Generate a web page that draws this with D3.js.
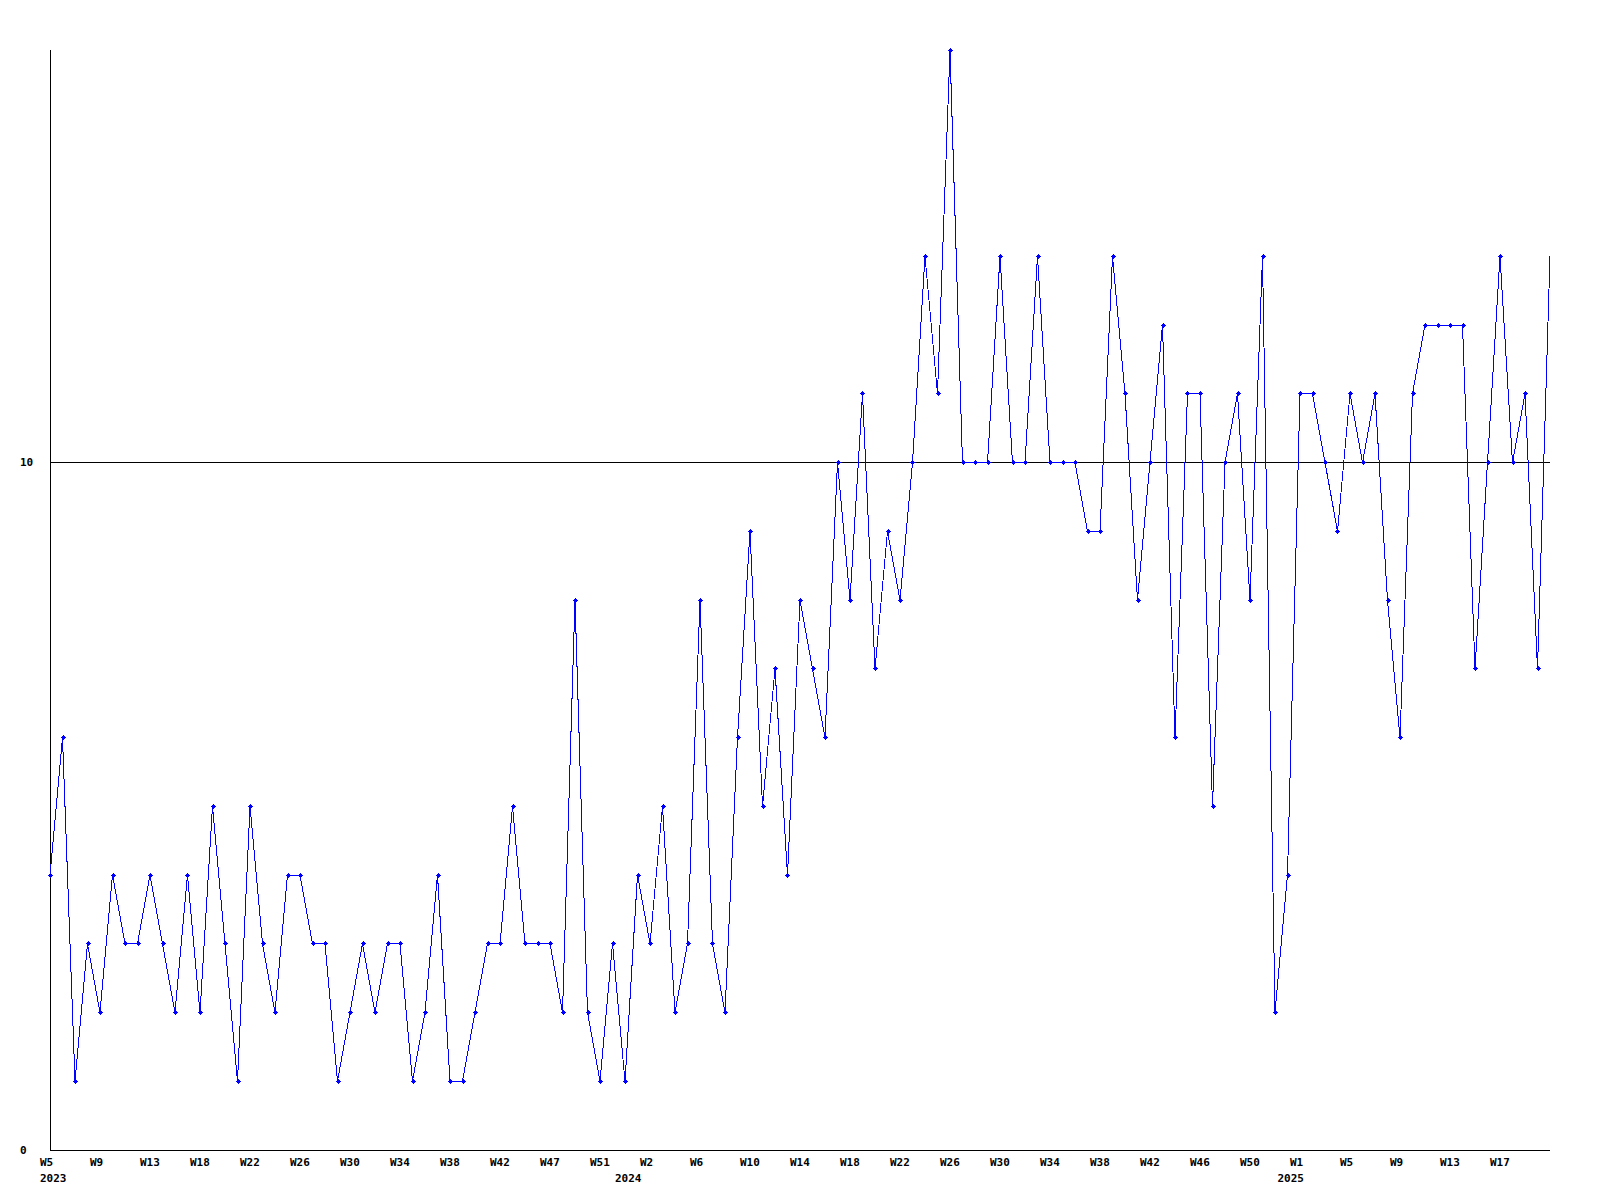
<!DOCTYPE html>
<html>
<head>
<meta charset="utf-8">
<script src="https://cdn.jsdelivr.net/npm/d3@7"></script>
<style>
  html, body { margin: 0; padding: 0; background: #fff; }
  svg text { font-family: "DejaVu Sans Mono", "Liberation Mono", monospace; font-size: 11px; font-weight: bold; fill: #000; }
</style>
</head>
<body>
<svg id="chart" width="1600" height="1200"></svg>
<script>
// weekly values, 2023 W5 .. 2025 W21
const values = [
  4,6,1,3,2,4,3,3,4,3,2,4,2,5,3,1,5,3,2,4,
  4,3,3,1,2,3,2,3,3,1,2,4,1,1,2,3,3,5,3,3,
  3,2,8,2,1,3,1,4,3,5,2,3,8,3,2,6,9,5,7,4,
  8,7,6,10,8,11,7,9,8,10,13,11,16,10,10,10,13,10,10,13,
  10,10,10,9,9,13,11,8,10,12,6,11,11,5,10,11,8,13,2,4,
  11,11,10,9,11,10,11,8,6,11,12,12,12,12,7,10,13,10,11,7,
  13
];
// week tick labels, one every 4 points
const weekLabels = ["W5","W9","W13","W18","W22","W26","W30","W34","W38","W42","W47","W51",
  "W2","W6","W10","W14","W18","W22","W26","W30","W34","W38","W42","W46","W50",
  "W1","W5","W9","W13","W17"];
const tickStep = 4;
// year labels and the point index they sit under
const yearLabels = ["2023","2024","2025"];
const yearIndex = [0, 46, 99];
// y-axis labels
const yTicks = [0, 10];
const refLine = 10;

(function () {
const svg = d3.select("#chart");
const pL = 50, pR = 1550, pT = 50, pB = 1150;
const x = d3.scaleLinear().domain([0, values.length - 1]).range([pL, pR]);
const y = d3.scaleLinear().domain([0, 16]).range([pB, pT]);

// axes lines
svg.append("line").attr("x1", pL + 0.5).attr("x2", pL + 0.5).attr("y1", pT).attr("y2", pB)
  .attr("stroke", "#000").attr("stroke-width", 1).attr("shape-rendering", "crispEdges");
svg.append("line").attr("x1", pL).attr("x2", pR).attr("y1", pB + 0.5).attr("y2", pB + 0.5)
  .attr("stroke", "#000").attr("stroke-width", 1).attr("shape-rendering", "crispEdges");

// reference line
svg.append("line").attr("x1", pL).attr("x2", pR)
  .attr("y1", Math.floor(y(refLine)) + 0.5).attr("y2", Math.floor(y(refLine)) + 0.5)
  .attr("stroke", "#000").attr("stroke-width", 1).attr("shape-rendering", "crispEdges");

// y labels
svg.selectAll("text.ylab").data(yTicks).enter().append("text")
  .attr("class", "ylab").attr("x", 20).attr("y", d => Math.floor(y(d)) + 4).text(d => d);

// week labels
svg.selectAll("text.wlab").data(weekLabels).enter().append("text")
  .attr("class", "wlab").attr("x", (d, i) => x(i * tickStep) - 10).attr("y", 1166).text(d => d);

// year labels
svg.selectAll("text.yrlab").data(yearLabels).enter().append("text")
  .attr("class", "yrlab").attr("x", (d, i) => x(yearIndex[i]) - 10).attr("y", 1182).text(d => d);

// data line
const line = d3.line().x((d, i) => x(i)).y(d => y(d));
svg.append("path").datum(values).attr("d", line)
  .attr("fill", "none").attr("stroke", "#0000ff").attr("stroke-width", 1)
  .attr("shape-rendering", "crispEdges");

// markers (all but last)
const marks = svg.append("g").attr("fill", "#0000ff").attr("shape-rendering", "crispEdges");
values.slice(0, -1).forEach((v, i) => {
  const cx = Math.round(x(i)), cy = Math.floor(y(v));
  marks.append("rect").attr("x", cx - 1).attr("y", cy - 1).attr("width", 3).attr("height", 3);
  marks.append("rect").attr("x", cx - 2).attr("y", cy).attr("width", 5).attr("height", 1);
  marks.append("rect").attr("x", cx).attr("y", cy - 2).attr("width", 1).attr("height", 5);
});
})();
</script>
</body>
</html>
